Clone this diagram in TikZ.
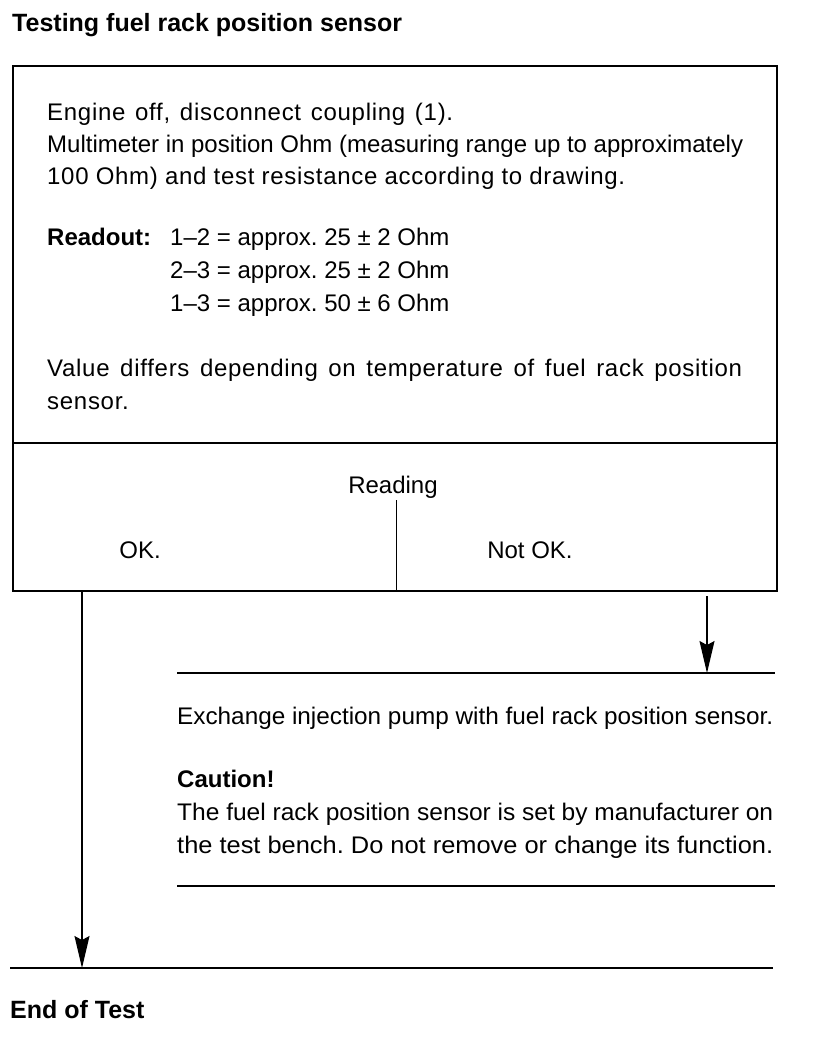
\documentclass[tikz,border=0pt]{standalone}
\usepackage{fontspec}
\setmainfont{Liberation Sans}
\usetikzlibrary{arrows.meta}
\begin{document}
\frenchspacing
\begin{tikzpicture}[x=1pt,y=-1pt,
  body/.style={anchor=base west, inner sep=0pt, font=\fontsize{24}{32}\selectfont},
  bodyw/.style={anchor=base west, inner sep=0pt, font=\fontsize{24}{32}\selectfont\addfontfeature{LetterSpace=3}},
  bodyc/.style={anchor=base, inner sep=0pt, font=\fontsize{24}{32}\selectfont},
  bodyb/.style={anchor=base west, inner sep=0pt, font=\fontsize{24}{32}\selectfont\bfseries},
  head/.style={anchor=base west, inner sep=0pt, font=\fontsize{25}{30}\selectfont\bfseries},
  frame/.style={draw, line width=2pt},
  rule/.style={line width=2pt},
  split/.style={line width=1pt},
  flow/.style={line width=1.2pt, -{Stealth[length=32pt,width=15pt,inset=4pt]}}]
\useasboundingbox (0,0) rectangle (816,1042);

% title
\node[head] (title) at (12,31) {Testing fuel rack position sensor};

% main box
\node[frame, anchor=north west, inner sep=0pt, minimum width=764pt, minimum height=525pt] (box) at (12,65) {};
\coordinate (div) at (0,443);
\draw[rule] (box.west |- div) -- (box.east |- div);

\node[bodyw] (l1) at (47,120) {\makebox[406pt][s]{Engine off, disconnect coupling (1).}};
\node[body] (l2) at (47,152) {\makebox[696pt][s]{Multimeter in position Ohm (measuring range up to approximately}};
\node[bodyw] (l3) at (47,184) {\makebox[578pt][s]{100 Ohm) and test resistance according to drawing.}};

\node[bodyb] (ro) at (47,245) {Readout:};
\node[body] (r1) at (170,245) {1–2 = approx. 25 ± 2 Ohm};
\node[body] (r2) at (170,278) {2–3 = approx. 25 ± 2 Ohm};
\node[body] (r3) at (170,311) {1–3 = approx. 50 ± 6 Ohm};

\node[bodyw] (v1) at (47,376) {\makebox[695pt][s]{Value differs depending on temperature of fuel rack position}};
\node[bodyw] (v2) at (47,409) {sensor.};

% reading section
\node[bodyc] (reading) at (393,493) {Reading};
\coordinate (splittop) at (396,500);
\draw[split] (splittop) -- (splittop |- box.south);
\node[bodyc] (ok) at (140,558) {OK.};
\node[bodyc] (nok) at (530,558) {Not OK.};

% not OK branch
\coordinate (exL) at (177,673);
\coordinate (exR) at (775,673);
\draw[rule] (exL) -- (exR);
\coordinate (nokstart) at (707,596);
\draw[flow] (nokstart) -- (nokstart |- exL);

\node[body] (ex) at (177,724) {\resizebox{596pt}{\height}{Exchange injection pump with fuel rack position sensor.}};
\node[bodyb] (caut) at (177,787) {Caution!};
\node[body] (c1) at (177,820) {\resizebox{596pt}{\height}{The fuel rack position sensor is set by manufacturer on}};
\node[body] (c2) at (177,853) {\resizebox{596pt}{\height}{the test bench. Do not remove or change its function.}};

\coordinate (cbL) at (177,886);
\coordinate (cbR) at (775,886);
\draw[rule] (cbL) -- (cbR);

% end
\coordinate (endL) at (10,968);
\coordinate (endR) at (773,968);
\draw[rule] (endL) -- (endR);
\coordinate (okstart) at (82,590);
\draw[flow] (okstart) -- (okstart |- endL);

\node[head] (end) at (10,1018) {End of Test};
\end{tikzpicture}
\end{document}
